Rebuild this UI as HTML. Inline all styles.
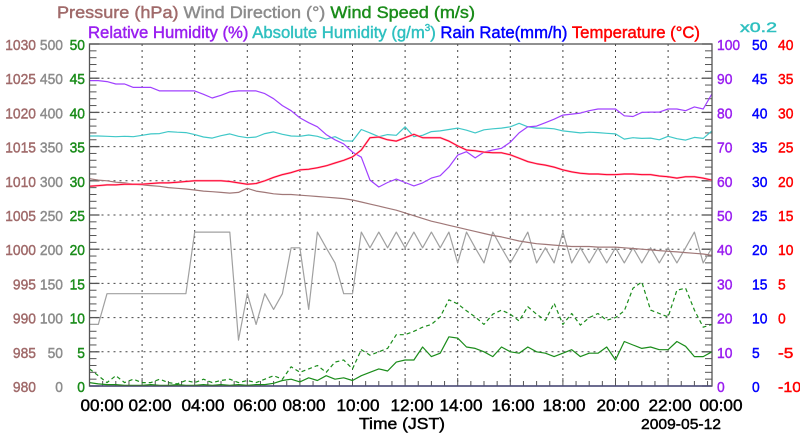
<!DOCTYPE html>
<html><head><meta charset="utf-8"><style>
body{margin:0;background:#fff;}
svg{display:block;font-family:"Liberation Sans",Arial,sans-serif;}
</style></head><body>
<svg id="chart" width="800" height="434" viewBox="0 0 800 434" xmlns="http://www.w3.org/2000/svg">
<g font-size="17" stroke-width="0.45">
<text x="57" y="18" textLength="418" lengthAdjust="spacingAndGlyphs"><tspan fill="#a06a6a" stroke="#a06a6a">Pressure (hPa)</tspan> <tspan fill="#8c8c8c" stroke="#8c8c8c">Wind Direction (°)</tspan> <tspan fill="#1a8c1a" stroke="#1a8c1a">Wind Speed (m/s)</tspan></text>
<text x="88" y="38" textLength="612" lengthAdjust="spacingAndGlyphs"><tspan fill="#9a1ff0" stroke="#9a1ff0">Relative Humidity (%)</tspan> <tspan fill="#2fc0c0" stroke="#2fc0c0">Absolute Humidity (g/m<tspan dy="-7" font-size="10">3</tspan><tspan dy="7">)</tspan></tspan> <tspan fill="#0000ff" stroke="#0000ff">Rain Rate(mm/h)</tspan> <tspan fill="#ff0000" stroke="#ff0000">Temperature (°C)</tspan></text>
<text x="740" y="32" font-size="14" fill="#2fc0c0" stroke="#2fc0c0" textLength="37" lengthAdjust="spacingAndGlyphs">x0.2</text>
</g>
<g id="grid"></g>
<g id="axes"></g>
<g id="series"></g>
<rect x="89.5" y="44" width="622.5" height="342" fill="none" stroke="#555" stroke-width="1.3"/>
<text x="402" y="429" font-size="16" text-anchor="middle" stroke="#000" stroke-width="0.45" textLength="86" lengthAdjust="spacingAndGlyphs">Time (JST)</text>
<text x="721" y="429" font-size="15" text-anchor="end" stroke="#000" stroke-width="0.45" textLength="80" lengthAdjust="spacingAndGlyphs">2009-05-12</text>
</svg>
<script>
const timeLabels=["00:00","02:00","04:00","06:00","08:00","10:00","12:00","14:00","16:00","18:00","20:00","22:00","00:00"];
const pressureTicks=[980,985,990,995,1000,1005,1010,1015,1020,1025,1030];
const windDirTicks=[0,50,100,150,200,250,300,350,400,450,500];
const windSpeedTicks=[0,5,10,15,20,25,30,35,40,45,50];
const rhTicks=[0,10,20,30,40,50,60,70,80,90,100];
const rainTicks=[0,5,10,15,20,25,30,35,40,45,50];
const tempTicks=[-10,-5,0,5,10,15,20,25,30,35,40];
// 20-minute samples starting 00:00
const pressure=[1010.3,1010.1,1010.0,1009.8,1009.7,1009.5,1009.4,1009.3,1009.2,1009.0,1008.9,1008.8,1008.65,1008.5,1008.4,1008.3,1008.2,1008.3,1008.9,1008.5,1008.3,1008.1,1008.0,1008.0,1007.9,1007.8,1007.7,1007.6,1007.5,1007.4,1007.2,1006.9,1006.6,1006.3,1006.0,1005.7,1005.3,1004.9,1004.5,1004.1,1003.8,1003.5,1003.2,1002.9,1002.6,1002.3,1002.0,1001.8,1001.5,1001.2,1001.0,1000.8,1000.7,1000.6,1000.5,1000.4,1000.4,1000.4,1000.3,1000.3,1000.3,1000.2,1000.1,1000.0,999.9,999.8,999.7,999.6,999.5,999.4,999.3,999.1];
const windDir=[90,90,135,135,135,135,135,135,135,135,135,135,225,225,225,225,225,67,135,90,135,112,135,202,202,112,225,202,180,135,135,225,202,225,202,225,202,225,202,225,202,225,180,225,202,180,225,202,180,202,225,180,202,180,225,180,202,180,202,180,202,180,202,180,202,180,202,180,202,225,180,202];
const windSpeed=[0.5,0.3,0.2,0.2,0.1,0.1,0.1,0.2,0.1,0.1,0.2,0.1,0.1,0.2,0.1,0.2,0.1,0.2,0.1,0.2,0.2,0.4,0.8,1.0,0.6,1.2,0.8,1.5,1.0,1.2,0.8,1.5,2.0,2.5,2.2,3.5,3.8,3.8,5.7,4.3,4.8,7.2,7.0,5.7,5.5,5.0,4.3,5.7,5.0,4.8,5.7,5.0,4.8,4.3,4.8,5.3,4.3,4.8,4.8,5.7,3.8,6.5,6.0,5.5,5.7,5.3,5.3,6.5,5.8,4.3,4.3,5.0];
const windGust=[2.5,1.5,0.5,1.5,0.5,1.0,0.5,0.5,1.0,0.5,0.3,0.8,0.5,1.0,0.5,0.8,1.0,0.5,0.8,0.5,1.0,1.5,1.0,2.8,2.0,2.5,3.0,2.0,3.5,3.8,2.5,5.3,4.5,5.0,5.5,7.5,7.5,8.0,8.6,9.0,10.1,12.6,12.0,11.0,10.1,9.0,10.5,11.1,10.5,9.5,11.6,10.5,9.6,12.1,9.0,10.6,8.9,10.0,10.6,9.6,10.0,11.0,14.3,15.2,11.1,10.6,10.1,14.0,14.3,11.1,8.6,9.0];
const relHum=[89.3,89.3,89.0,88.3,88.3,87.3,87.3,87.3,86.3,86.3,86.3,86.3,86.3,85.3,84.2,85.0,86.0,86.3,86.3,86.3,85.5,84.0,82.0,80.5,78.4,77.0,75.8,73.5,72.0,70.8,68.4,66.9,60.2,58.2,59.5,60.5,59.5,58.5,59.4,60.8,61.5,64.0,67.5,68.5,66.7,68.4,69.0,69.5,71.3,74.0,75.8,76.0,77.0,78.0,79.2,79.5,79.8,80.5,81.0,81.0,81.0,79.0,78.8,80.0,80.1,80.1,81.0,81.0,80.5,81.6,81.0,85.4];
const absHum=[7.31,7.31,7.30,7.29,7.30,7.29,7.33,7.37,7.38,7.44,7.42,7.41,7.35,7.28,7.25,7.32,7.37,7.30,7.26,7.28,7.38,7.43,7.36,7.31,7.30,7.34,7.30,7.22,7.29,7.17,7.16,7.50,7.40,7.29,7.35,7.33,7.58,7.29,7.33,7.44,7.46,7.50,7.54,7.48,7.40,7.49,7.52,7.54,7.58,7.68,7.58,7.54,7.54,7.52,7.46,7.43,7.40,7.42,7.41,7.39,7.37,7.22,7.26,7.24,7.25,7.20,7.30,7.23,7.19,7.27,7.24,7.46];
const rainRate=[0,0,0,0,0,0,0,0,0,0,0,0,0,0,0,0,0,0,0,0,0,0,0,0,0,0,0,0,0,0,0,0,0,0,0,0,0,0,0,0,0,0,0,0,0,0,0,0,0,0,0,0,0,0,0,0,0,0,0,0,0,0,0,0,0,0,0,0,0,0,0,0];
const temperature=[19.2,19.3,19.4,19.4,19.5,19.5,19.5,19.6,19.7,19.7,19.8,19.9,20.0,20.0,20.0,20.0,19.9,19.7,19.5,19.6,20.0,20.5,20.9,21.2,21.6,21.7,21.9,22.2,22.6,23.0,23.5,24.5,26.3,26.4,26.0,25.8,26.3,26.8,26.3,26.3,26.3,25.8,25.1,24.5,24.4,24.2,24.1,24.1,23.8,23.3,22.8,22.5,22.3,22.0,21.6,21.3,21.1,21.0,21.0,20.9,20.9,21.0,21.0,20.9,20.9,20.7,20.6,20.4,20.6,20.6,20.4,20.1];

const NS="http://www.w3.org/2000/svg";
const X0=89.5,X1=712,Y0=386,Y1=44,PXH=26.3;
const xT=h=>X0+h*PXH;
const yLin=(v,lo,hi)=>Y0-(v-lo)/(hi-lo)*(Y0-Y1);
const yP=v=>yLin(v,980,1030), yD=v=>yLin(v,0,500), yS=v=>yLin(v,0,50), yRH=v=>yLin(v,0,100), yR=v=>yLin(v,0,50), yT=v=>yLin(v,-10,40), yAH=v=>yLin(v/0.2,0,50);
function mk(tag,attrs,parent){const e=document.createElementNS(NS,tag);for(const k in attrs)e.setAttribute(k,attrs[k]);parent.appendChild(e);return e;}
const grid=document.getElementById('grid'),axes=document.getElementById('axes'),ser=document.getElementById('series');
function label(txt,x,y,anchor,color,name){
  const n=String(txt).length;
  const t=mk('text',{x:x,y:y,'text-anchor':anchor,'font-size':15,fill:color,stroke:color,'stroke-width':0.45,textLength:n*7.7,lengthAdjust:'spacingAndGlyphs'},axes);
  t.textContent=txt;
  
  
  return t;
}
for(let i=0;i<pressureTicks.length;i++){
  const y=yP(pressureTicks[i]);
  if(i>0&&i<pressureTicks.length-1){const g=mk('line',{x1:X0,x2:X1,y1:y,y2:y,stroke:'#444','stroke-dasharray':'2,4','stroke-width':1},grid);
  
  }
  label(pressureTicks[i],36,y+6,'end','#a06a6a','pressure-tick-label');
  label(windDirTicks[i],63,y+6,'end','#8c8c8c','wind-direction-tick-label');
  label(windSpeedTicks[i],85,y+6,'end','#1a8c1a','wind-speed-tick-label');
  label(rhTicks[i],717,y+6,'start','#9a1ff0','rh-tick-label');
  label(rainTicks[i],752,y+6,'start','#0000ff','rain-tick-label');
  label(tempTicks[i],778,y+6,'start','#ff0000','temperature-tick-label');
  mk('line',{x1:X0,x2:X0+10,y1:y,y2:y,stroke:'#555','stroke-width':1.3},axes);
  mk('line',{x1:X1-10,x2:X1,y1:y,y2:y,stroke:'#555','stroke-width':1.3},axes);
  if(i<pressureTicks.length-1){for(let m=1;m<5;m++){const ym=y-m*(Y0-Y1)/50;
    mk('line',{x1:X0,x2:X0+7,y1:ym,y2:ym,stroke:'#555','stroke-width':1},axes);
    mk('line',{x1:X1-7,x2:X1,y1:ym,y2:ym,stroke:'#555','stroke-width':1},axes);}}
}
const labelX=[102,150,203,255,304,358,412,461,513,564,618,670,721];
timeLabels.forEach((lab,i)=>{
  const x=xT(i*2);
  if(i>0&&x<X1-2){const g=mk('line',{x1:x,x2:x,y1:Y1,y2:Y0,stroke:'#444','stroke-dasharray':'2,4','stroke-width':1},grid);
  
  }
  const t=mk('text',{x:labelX[i],y:411,'text-anchor':'middle','font-size':17,fill:'#000',stroke:'#000','stroke-width':0.45,textLength:43,lengthAdjust:'spacingAndGlyphs'},axes);
  t.textContent=lab;
  
  
});
for(let h=0.5;h<24;h+=0.5){const x=xT(h);if(x<X1)mk('line',{x1:x,x2:x,y1:Y0,y2:Y0-(h%2===0?8:5),stroke:'#555','stroke-width':1},axes);}
function line(arr,fy,color,name,extra){
  const pts=arr.map((v,i)=>{const x=Math.min(xT(i/3),X1);return x.toFixed(1)+','+fy(v).toFixed(1);}).join(' ');
  const p=mk('polyline',Object.assign({points:pts,fill:'none',stroke:color,'stroke-width':1.2,'stroke-linejoin':'round'},extra||{}),ser);
  
  
  return p;
}
line(rainRate,yR,'#3030ff','rain-rate-line',{'stroke-width':1.5});
line(windDir,yD,'#a0a0a0','wind-direction-line');
line(windGust,yS,'#1a8c1a','wind-gust-line',{'stroke-dasharray':'4,3'});
line(windSpeed,yS,'#1a8c1a','wind-speed-line');
line(pressure,yP,'#a07878','pressure-line');
line(absHum,yAH,'#40c8c8','absolute-humidity-line');
line(relHum,yRH,'#a040ff','relative-humidity-line');
line(temperature,yT,'#ffa0b0','temperature-shadow-line',{'stroke-width':2});
line(temperature,yT,'#ff0030','temperature-line',{'stroke-width':1});
</script>
</body></html>
